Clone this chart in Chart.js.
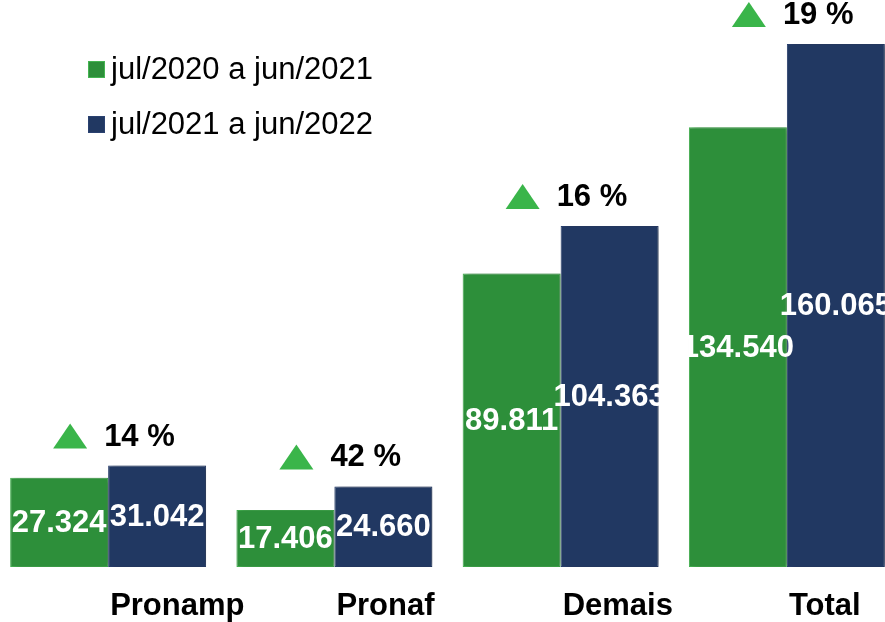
<!DOCTYPE html>
<html><head><meta charset="utf-8">
<script src="https://cdn.jsdelivr.net/npm/chart.js@4"></script>
<style>
html,body{margin:0;padding:0;overflow:hidden;background:#fff;width:885px;height:622px}
#wrap{position:absolute;left:-5px;top:0;width:905px;height:622px}
</style>
</head><body><div id="wrap"><canvas id="c" width="905" height="622"></canvas></div>
<script>
// ---- data ----
const categories = ['Pronamp', 'Pronaf', 'Demais', 'Total'];
const seriesNames = ['jul/2020 a jun/2021', 'jul/2021 a jun/2022'];
const values2021 = [27324, 17406, 89811, 134540];
const values2022 = [31042, 24660, 104363, 160065];
const growthLabels = ['14 %', '42 %', '16 %', '19 %'];

// ---- styles ----
const GREEN = '#2d8f3a', GREEN_BORDER = '#45b552';
const NAVY = '#213862', NAVY_BORDER = '#2a4170';
const TRI = '#3ab54a';
const FONT = '"Liberation Sans", Arial, sans-serif';

function fmt(v) {
  const k = Math.floor(v / 1000), r = v % 1000;
  return k > 0 ? k + '.' + String(r).padStart(3, '0') : String(r);
}

const shadowPlugin = {
  id: 'shadow',
  beforeDatasetsDraw(chart) {
    const ctx = chart.ctx;
    ctx.save();
    ctx.shadowColor = 'rgba(0,0,0,0.35)';
    ctx.shadowBlur = 6;
    ctx.shadowOffsetX = 3;
    ctx.shadowOffsetY = 0;
  },
  afterDatasetsDraw(chart) { chart.ctx.restore(); }
};

const annotPlugin = {
  id: 'annot',
  afterDraw(chart) {
    const ctx = chart.ctx;
    const x = chart.scales.x;
    const m0 = chart.getDatasetMeta(0).data;
    const m1 = chart.getDatasetMeta(1).data;
    ctx.save();
    // value labels
    ctx.fillStyle = '#ffffff';
    ctx.font = 'bold 31px ' + FONT;
    ctx.textAlign = 'center';
    ctx.textBaseline = 'middle';
    [[m0, values2021], [m1, values2022]].forEach(([meta, vals]) => {
      meta.forEach((bar, i) => {
        const p = bar.getProps(['x', 'y', 'base'], true);
        ctx.fillText(fmt(vals[i]), p.x, (p.y + p.base) / 2 + 1);
      });
    });
    // category labels
    ctx.fillStyle = '#000000';
    ctx.font = 'bold 31px ' + FONT;
    ctx.textAlign = 'left';
    ctx.textBaseline = 'alphabetic';
    categories.forEach((c, i) => {
      ctx.fillText(c, x.getPixelForValue(i) + 2, 615);
    });
    // growth annotations
    categories.forEach((c, i) => {
      const cx = x.getPixelForValue(i);
      const top = m1[i].getProps(['y'], true).y;
      const triBottom = top - 17;
      const tcx = cx - 38;
      ctx.fillStyle = TRI;
      ctx.beginPath();
      ctx.moveTo(tcx - 17, triBottom);
      ctx.lineTo(tcx + 17, triBottom);
      ctx.lineTo(tcx, triBottom - 25);
      ctx.closePath();
      ctx.fill();
      ctx.fillStyle = '#000000';
      ctx.font = 'bold 31px ' + FONT;
      ctx.textAlign = 'left';
      ctx.fillText(growthLabels[i], cx - 4, top - 20);
    });
    // legend
    const legColors = [[GREEN, GREEN_BORDER], [NAVY, NAVY_BORDER]];
    ctx.font = '31px ' + FONT;
    seriesNames.forEach((name, i) => {
      const y0 = 61 + i * 55;
      ctx.fillStyle = legColors[i][0];
      ctx.fillRect(93, y0, 17, 17);
      ctx.strokeStyle = legColors[i][1];
      ctx.lineWidth = 1;
      ctx.strokeRect(93.5, y0 + 0.5, 16, 16);
      ctx.fillStyle = '#000000';
      ctx.fillText(name, 116, y0 + 18);
    });
    ctx.restore();
  }
};

new Chart(document.getElementById('c'), {
  type: 'bar',
  data: {
    labels: categories,
    datasets: [
      { label: seriesNames[0], data: values2021, backgroundColor: GREEN, borderColor: GREEN_BORDER, borderWidth: 1, borderSkipped: false },
      { label: seriesNames[1], data: values2022, backgroundColor: NAVY, borderColor: NAVY_BORDER, borderWidth: 1, borderSkipped: false }
    ]
  },
  options: {
    responsive: false,
    animation: false,
    devicePixelRatio: 1,
    layout: { padding: { left: 0, right: 0, top: 0, bottom: 55 } },
    datasets: { bar: { barPercentage: 1, categoryPercentage: 0.866 } },
    plugins: { legend: { display: false }, tooltip: { enabled: false } },
    scales: {
      x: { display: false, offset: true },
      y: { display: false, min: 0, max: 173500 }
    }
  },
  plugins: [shadowPlugin, annotPlugin]
});
</script>
</body></html>
